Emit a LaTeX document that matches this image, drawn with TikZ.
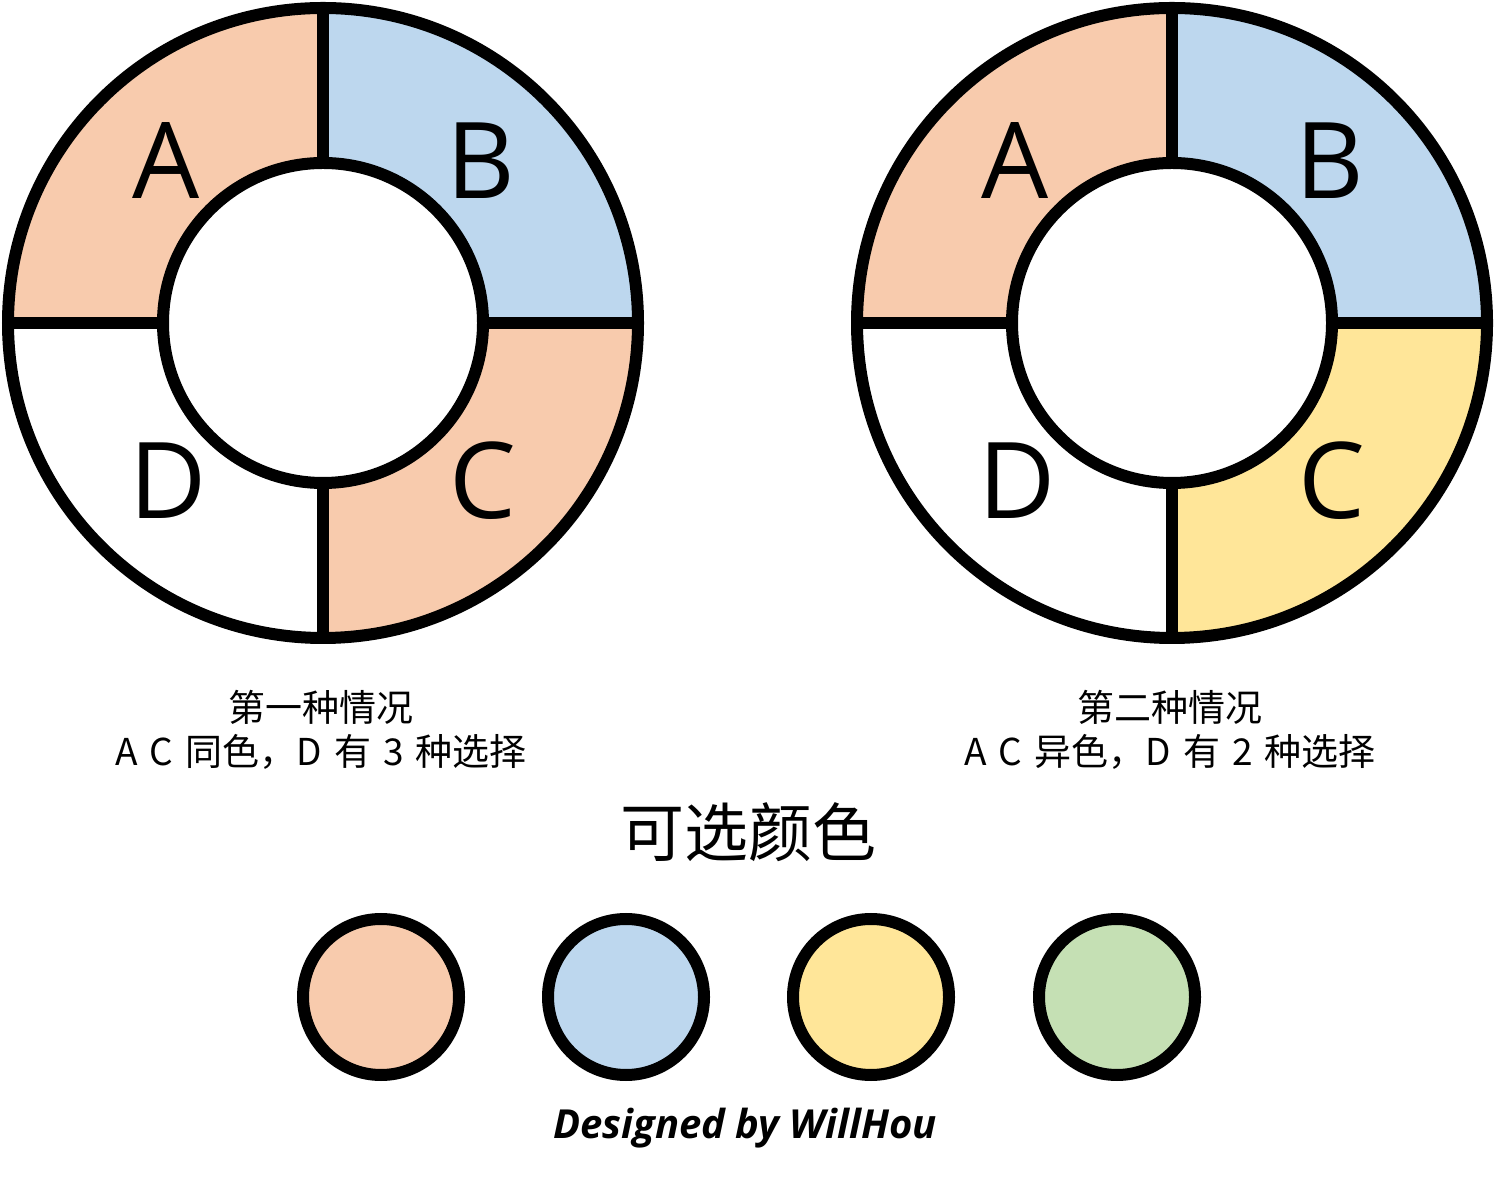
\documentclass[tikz,border=0pt]{standalone}
\usepackage{fontspec}
\setmainfont{Open Sans}
\newfontfamily\cjk[WordSpace=1.45]{Noto Sans CJK SC}
\usetikzlibrary{positioning,calc,backgrounds}
\pgfdeclarelayer{edgelayer}
\pgfdeclarelayer{nodelayer}
\pgfsetlayers{background,edgelayer,main,nodelayer}
\definecolor{peach}{RGB}{248,203,173}
\definecolor{sky}{RGB}{189,215,238}
\definecolor{butter}{RGB}{255,230,153}
\definecolor{mint}{RGB}{197,224,180}
\tikzstyle{none}=[inner sep=0mm]
\tikzstyle{ring}=[line width=12pt,draw=black]
\tikzstyle{letter}=[none,font=\fontsize{106}{106}\selectfont]
\tikzstyle{caption}=[none,align=center,font=\cjk\fontsize{37}{44}\selectfont]
\tikzstyle{title}=[none,font=\cjk\fontsize{64}{64}\selectfont]
\tikzstyle{swatch}=[shape=circle,ring,minimum size=156pt,inner sep=0mm]
\tikzstyle{signature}=[none,font=\fontsize{40}{40}\selectfont\bfseries\itshape]
% one quarter of a ring: centre, start angle, colour
\newcommand{\ringpart}[3]{\fill[#3] ([shift={(#2:315)}]#1) arc[start angle=#2, delta angle=90, radius=315] -- ([shift={(#2+90:160)}]#1) arc[start angle=#2+90, delta angle=-90, radius=160] -- cycle;}
% whole ring: centre, colours of B, A, D, C
\newcommand{\donut}[5]{%
	\ringpart{#1}{0}{#2}\ringpart{#1}{90}{#3}\ringpart{#1}{180}{#4}\ringpart{#1}{270}{#5}
	\draw[ring] (#1) circle[radius=315];
	\draw[ring,fill=white] (#1) circle[radius=160];
	\draw[ring] ([shift={(0:160)}]#1) -- ([shift={(0:315)}]#1);
	\draw[ring] ([shift={(90:160)}]#1) -- ([shift={(90:315)}]#1);
	\draw[ring] ([shift={(180:160)}]#1) -- ([shift={(180:315)}]#1);
	\draw[ring] ([shift={(270:160)}]#1) -- ([shift={(270:315)}]#1);}

\begin{document}
\begin{tikzpicture}[x=1pt,y=1pt]
	\useasboundingbox (0,0) rectangle (1495,1180);
	\coordinate (o1) at (323, 857);
	\coordinate (o2) at (1172, 857);
	\begin{pgfonlayer}{edgelayer}
		\donut{o1}{sky}{peach}{white}{peach}
		\donut{o2}{sky}{peach}{white}{butter}
	\end{pgfonlayer}
	\begin{pgfonlayer}{nodelayer}
		\node [style=letter] (a1) at (166, 1019) {A};
		\node [style=letter] (b1) at (481, 1019) {B};
		\node [style=letter] (c1) at (483, 699) {C};
		\node [style=letter] (d1) at (168, 699) {D};
		\node [style=letter] (a2) at (1015, 1019) {A};
		\node [style=letter] (b2) at (1330, 1019) {B};
		\node [style=letter] (c2) at (1332, 699) {C};
		\node [style=letter] (d2) at (1017, 699) {D};
		\node [style=caption] (cap1) at (321, 450) {第一种情况\\A C 同色，D 有 3 种选择};
		\node [style=caption] (cap2) at (1170, 450) {第二种情况\\A C 异色，D 有 2 种选择};
		\node [style=title] (head) at (748, 348) {可选颜色};
		\node [style=swatch, fill=peach] (s1) at (381, 183) {};
		\node [style=swatch, fill=sky] (s2) at (626, 183) {};
		\node [style=swatch, fill=butter] (s3) at (871, 183) {};
		\node [style=swatch, fill=mint] (s4) at (1117, 183) {};
		\node [style=signature] (sign) at (745, 52) {Designed by WillHou};
	\end{pgfonlayer}
\end{tikzpicture}
\end{document}
